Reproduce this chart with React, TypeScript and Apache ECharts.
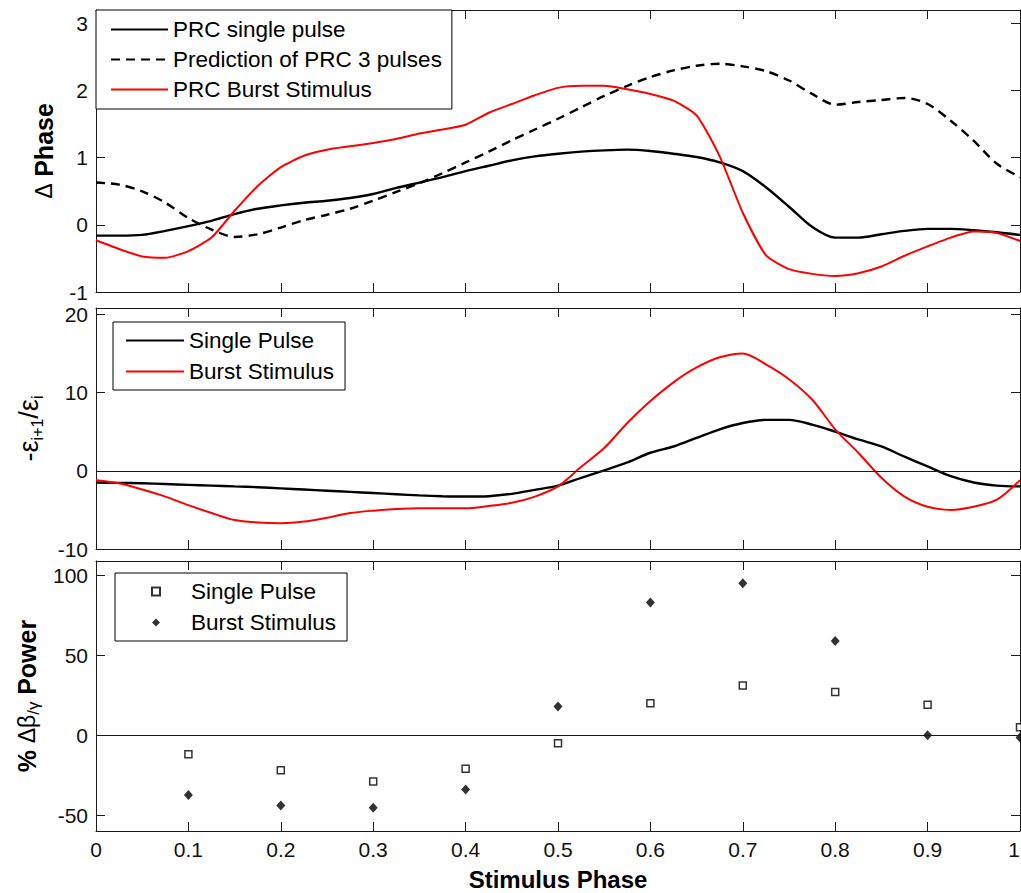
import React, { useEffect, useRef } from 'react';
import * as echarts from 'echarts';

// ---------- data ----------
const PHASE = [
  0, 0.025, 0.05, 0.075, 0.1, 0.125, 0.15, 0.175, 0.2, 0.225, 0.25, 0.275, 0.3, 0.325, 0.35,
  0.375, 0.4, 0.425, 0.45, 0.475, 0.5, 0.525, 0.55, 0.575, 0.6, 0.625, 0.65, 0.675, 0.7,
  0.725, 0.75, 0.775, 0.8, 0.825, 0.85, 0.875, 0.9, 0.925, 0.95, 0.975, 1,
];

// Panel 1: Δ Phase
const PRC_SINGLE = [
  -0.16, -0.16, -0.15, -0.09, -0.02, 0.06, 0.16, 0.24, 0.29, 0.33, 0.36, 0.4, 0.46, 0.55, 0.63,
  0.71, 0.8, 0.88, 0.96, 1.02, 1.06, 1.09, 1.11, 1.12, 1.1, 1.06, 1.01, 0.93, 0.8, 0.56, 0.27,
  -0.03, -0.19, -0.19, -0.14, -0.09, -0.06, -0.06, -0.08, -0.11, -0.15,
];
const PRC_PRED3 = [
  0.63, 0.6, 0.5, 0.33, 0.1, -0.07, -0.18, -0.14, -0.04, 0.07, 0.15, 0.24, 0.36, 0.49, 0.62,
  0.77, 0.93, 1.09, 1.26, 1.42, 1.58, 1.75, 1.92, 2.07, 2.2, 2.3, 2.37, 2.4, 2.36, 2.29, 2.15,
  1.95, 1.79, 1.83, 1.86, 1.89, 1.8, 1.55, 1.25, 0.91, 0.71,
];
const PRC_BURST = [
  -0.23, -0.36, -0.47, -0.49, -0.39, -0.19, 0.21, 0.58, 0.86, 1.03, 1.12, 1.17, 1.22, 1.28, 1.36,
  1.42, 1.49, 1.67, 1.8, 1.93, 2.04, 2.07, 2.07, 2.02, 1.95, 1.85, 1.63, 1.02, 0.18, -0.45, -0.66,
  -0.73, -0.76, -0.72, -0.62, -0.46, -0.32, -0.19, -0.1, -0.12, -0.24,
];

// Panel 2: -eps(i+1)/eps(i)
const EPS_SINGLE = [
  -1.5, -1.55, -1.6, -1.7, -1.8, -1.9, -2.0, -2.1, -2.25, -2.4, -2.55, -2.7, -2.85, -3.0, -3.15,
  -3.25, -3.3, -3.25, -2.95, -2.45, -1.9, -0.9, 0.05, 1.06, 2.3, 3.1, 4.2, 5.3, 6.1, 6.5, 6.5,
  5.9, 5.0, 4.0, 3.1, 1.8, 0.55, -0.7, -1.5, -1.9, -2.0,
];
const EPS_BURST = [
  -1.2, -1.6, -2.4, -3.3, -4.4, -5.4, -6.3, -6.6, -6.7, -6.5, -6.0, -5.4, -5.1, -4.9, -4.8,
  -4.8, -4.8, -4.5, -4.1, -3.3, -2.0, 0.5, 2.9, 6.1, 8.9, 11.3, 13.2, 14.5, 15.0, 13.6, 11.7,
  9.1, 5.3, 2.3, -0.9, -3.3, -4.6, -5.0, -4.6, -3.7, -1.2,
];

// Panel 3: % Δβ/γ power
const STIM_PHASE = [0.1, 0.2, 0.3, 0.4, 0.5, 0.6, 0.7, 0.8, 0.9, 1];
const POWER_SINGLE = [-12, -22, -29, -21, -5, 20, 31, 27, 19, 5];
const POWER_BURST = [-37.5, -44, -45.5, -34, 18, 83, 95, 59, 0, -1.5];

// ticks
const X_TICKS = [0, 0.1, 0.2, 0.3, 0.4, 0.5, 0.6, 0.7, 0.8, 0.9, 1];
const Y1_TICKS = [-1, 0, 1, 2, 3];
const Y2_TICKS = [-10, 0, 10, 20];
const Y3_TICKS = [-50, 0, 50, 100];

// ---------- styling ----------
const FONT = '"Liberation Sans", Arial, Helvetica, sans-serif';
const AX = '#1a1a1a';
const RED = '#ff0000';

const pairs = (xs: number[], ys: number[]) => xs.map((x, i) => [x, ys[i]]);

function xAxesFor(gridIndex: number, labels: boolean) {
  const common = {
    type: 'value',
    gridIndex,
    min: 0,
    max: 1,
    splitLine: { show: false },
    axisLine: { show: true, onZero: false, lineStyle: { color: AX, width: 1 } },
    axisTick: { show: true, inside: true, length: 9, customValues: X_TICKS, lineStyle: { color: AX, width: 1 } },
  };
  return [
    {
      ...common,
      position: 'bottom',
      axisLabel: {
        show: labels,
        customValues: X_TICKS,
        margin: 8,
        fontSize: 21,
        color: '#111',
        fontFamily: FONT,
        alignMaxLabel: 'right',
        formatter: (v: number) => String(v),
      },
      name: labels ? 'Stimulus Phase' : '',
      nameLocation: 'middle',
      nameGap: 36,
      nameTextStyle: { fontSize: 24, fontWeight: 'bold', color: '#000', fontFamily: FONT },
    },
    { ...common, position: 'top', axisLabel: { show: false } },
  ];
}

function yAxesFor(gridIndex: number, min: number, max: number, ticks: number[], name: string, nameGap: number, rich: any) {
  const common = {
    type: 'value',
    gridIndex,
    min,
    max,
    splitLine: { show: false },
    axisLine: { show: true, onZero: false, lineStyle: { color: AX, width: 1 } },
    axisTick: { show: true, inside: true, length: 9, customValues: ticks, lineStyle: { color: AX, width: 1 } },
  };
  return [
    {
      ...common,
      position: 'left',
      axisLabel: {
        show: true,
        customValues: ticks,
        margin: 8,
        fontSize: 21,
        color: '#111',
        fontFamily: FONT,
      },
      name,
      nameLocation: 'middle',
      nameGap,
      nameTextStyle: { fontSize: 24, color: '#000', fontFamily: FONT, rich },
    },
    { ...common, position: 'right', axisLabel: { show: false } },
  ];
}

const legendText = { fontSize: 22.5, fontFamily: FONT, color: '#000', lineHeight: 22 };
const hiddenSymbol = { color: 'rgba(0,0,0,0)', borderWidth: 0, opacity: 0 };

const option: any = {
  animation: false,
  backgroundColor: '#fff',
  grid: [
    { left: 96, top: 10, width: 924, height: 282, outerBoundsMode: 'none' },
    { left: 96, top: 308, width: 924, height: 241, outerBoundsMode: 'none' },
    { left: 96, top: 561, width: 924, height: 270, outerBoundsMode: 'none' },
  ],
  xAxis: [...xAxesFor(0, false), ...xAxesFor(1, false), ...xAxesFor(2, true)],
  yAxis: [
    ...yAxesFor(0, -1, 3.2, Y1_TICKS, '{d|Δ} {b|Phase}', 40, {
      d: { fontSize: 23, fontFamily: FONT, color: '#000' },
      b: { fontSize: 25, fontWeight: 'bold', fontFamily: FONT, color: '#000' },
    }),
    ...yAxesFor(1, -10, 20.8, Y2_TICKS, '{n|-ε}{s|i+1}{n|/ε}{s|i}', 51, {
      n: { fontSize: 27, fontFamily: FONT, color: '#000', lineHeight: 32 },
      s: { fontSize: 16, fontFamily: FONT, color: '#000', lineHeight: 16, verticalAlign: 'bottom' },
    }),
    ...yAxesFor(2, -60, 109, Y3_TICKS, '{b|%} {r|Δβ}{s|/γ} {b|Power}', 52, {
      b: { fontSize: 25, fontWeight: 'bold', fontFamily: FONT, color: '#000', lineHeight: 30 },
      r: { fontSize: 23, fontFamily: FONT, color: '#000', lineHeight: 30 },
      s: { fontSize: 17, fontFamily: FONT, color: '#000', lineHeight: 17, verticalAlign: 'bottom' },
    }),
  ],
  legend: [
    {
      orient: 'vertical',
      left: 96,
      top: 10,
      padding: [8, 10, 8, 14],
      itemWidth: 57,
      itemHeight: 14,
      itemGap: 7,
      selectedMode: false,
      borderColor: '#000',
      borderWidth: 1,
      borderRadius: 0,
      backgroundColor: '#fff',
      itemStyle: hiddenSymbol,
      textStyle: legendText,
      data: ['PRC single pulse', 'Prediction of PRC 3 pulses', 'PRC Burst Stimulus'],
    },
    {
      orient: 'vertical',
      left: 113,
      top: 322,
      padding: [7, 11, 7, 12],
      itemWidth: 58,
      itemHeight: 14,
      itemGap: 8,
      selectedMode: false,
      borderColor: '#000',
      borderWidth: 1,
      borderRadius: 0,
      backgroundColor: '#fff',
      itemStyle: hiddenSymbol,
      textStyle: legendText,
      data: ['Single Pulse', 'Burst Stimulus'],
    },
    {
      orient: 'vertical',
      left: 115,
      top: 573,
      padding: [7, 11, 7, 36],
      itemWidth: 8,
      itemHeight: 8,
      itemGap: 8,
      selectedMode: false,
      borderColor: '#000',
      borderWidth: 1,
      borderRadius: 0,
      backgroundColor: '#fff',
      textStyle: { ...legendText, padding: [0, 0, 0, 26] },
      formatter: (n: string) => n.split('|')[0],
      data: ['Single Pulse|power', 'Burst Stimulus|power'],
    },
  ],
  series: [
    {
      name: 'PRC single pulse',
      type: 'line',
      xAxisIndex: 0,
      yAxisIndex: 0,
      data: pairs(PHASE, PRC_SINGLE),
      symbol: 'none',
      smooth: 0.3,
      lineStyle: { color: '#000', width: 2.4 },
      itemStyle: { color: '#000' },
    },
    {
      name: 'Prediction of PRC 3 pulses',
      type: 'line',
      xAxisIndex: 0,
      yAxisIndex: 0,
      data: pairs(PHASE, PRC_PRED3),
      symbol: 'none',
      smooth: 0.3,
      lineStyle: { color: '#000', width: 2.4, type: [9, 6] },
      itemStyle: { color: '#000' },
    },
    {
      name: 'PRC Burst Stimulus',
      type: 'line',
      xAxisIndex: 0,
      yAxisIndex: 0,
      data: pairs(PHASE, PRC_BURST),
      symbol: 'none',
      smooth: 0.2,
      lineStyle: { color: RED, width: 2 },
      itemStyle: { color: RED },
    },
    {
      name: 'Single Pulse',
      type: 'line',
      xAxisIndex: 2,
      yAxisIndex: 2,
      data: pairs(PHASE, EPS_SINGLE),
      symbol: 'none',
      smooth: 0.3,
      lineStyle: { color: '#000', width: 2.4 },
      itemStyle: { color: '#000' },
      markLine: {
        silent: true,
        symbol: 'none',
        label: { show: false },
        lineStyle: { color: AX, width: 1, type: 'solid' },
        data: [{ yAxis: 0 }],
      },
    },
    {
      name: 'Burst Stimulus',
      type: 'line',
      xAxisIndex: 2,
      yAxisIndex: 2,
      data: pairs(PHASE, EPS_BURST),
      symbol: 'none',
      smooth: 0.3,
      lineStyle: { color: RED, width: 2 },
      itemStyle: { color: RED },
    },
    {
      name: 'Single Pulse|power',
      type: 'scatter',
      xAxisIndex: 4,
      yAxisIndex: 4,
      data: pairs(STIM_PHASE, POWER_SINGLE),
      symbol: 'rect',
      symbolSize: 7,
      clip: false,
      itemStyle: { color: '#fff', borderColor: '#000', borderWidth: 1.5 },
      markLine: {
        silent: true,
        symbol: 'none',
        label: { show: false },
        lineStyle: { color: AX, width: 1, type: 'solid' },
        data: [{ yAxis: 0 }],
      },
    },
    {
      name: 'Burst Stimulus|power',
      type: 'scatter',
      xAxisIndex: 4,
      yAxisIndex: 4,
      data: pairs(STIM_PHASE, POWER_BURST),
      symbol: 'diamond',
      symbolSize: [9, 10],
      clip: false,
      itemStyle: { color: '#000' },
    },
  ],
};

export default function App() {
  const ref = useRef<HTMLDivElement>(null);
  useEffect(() => {
    const chart = echarts.init(ref.current as HTMLDivElement, null, { renderer: 'svg' });
    chart.setOption(option);
    return () => chart.dispose();
  }, []);
  return (
    <div
      ref={ref}
      style={{ position: 'fixed', left: 0, top: 0, width: 1021, height: 893, background: '#fff' }}
    />
  );
}
